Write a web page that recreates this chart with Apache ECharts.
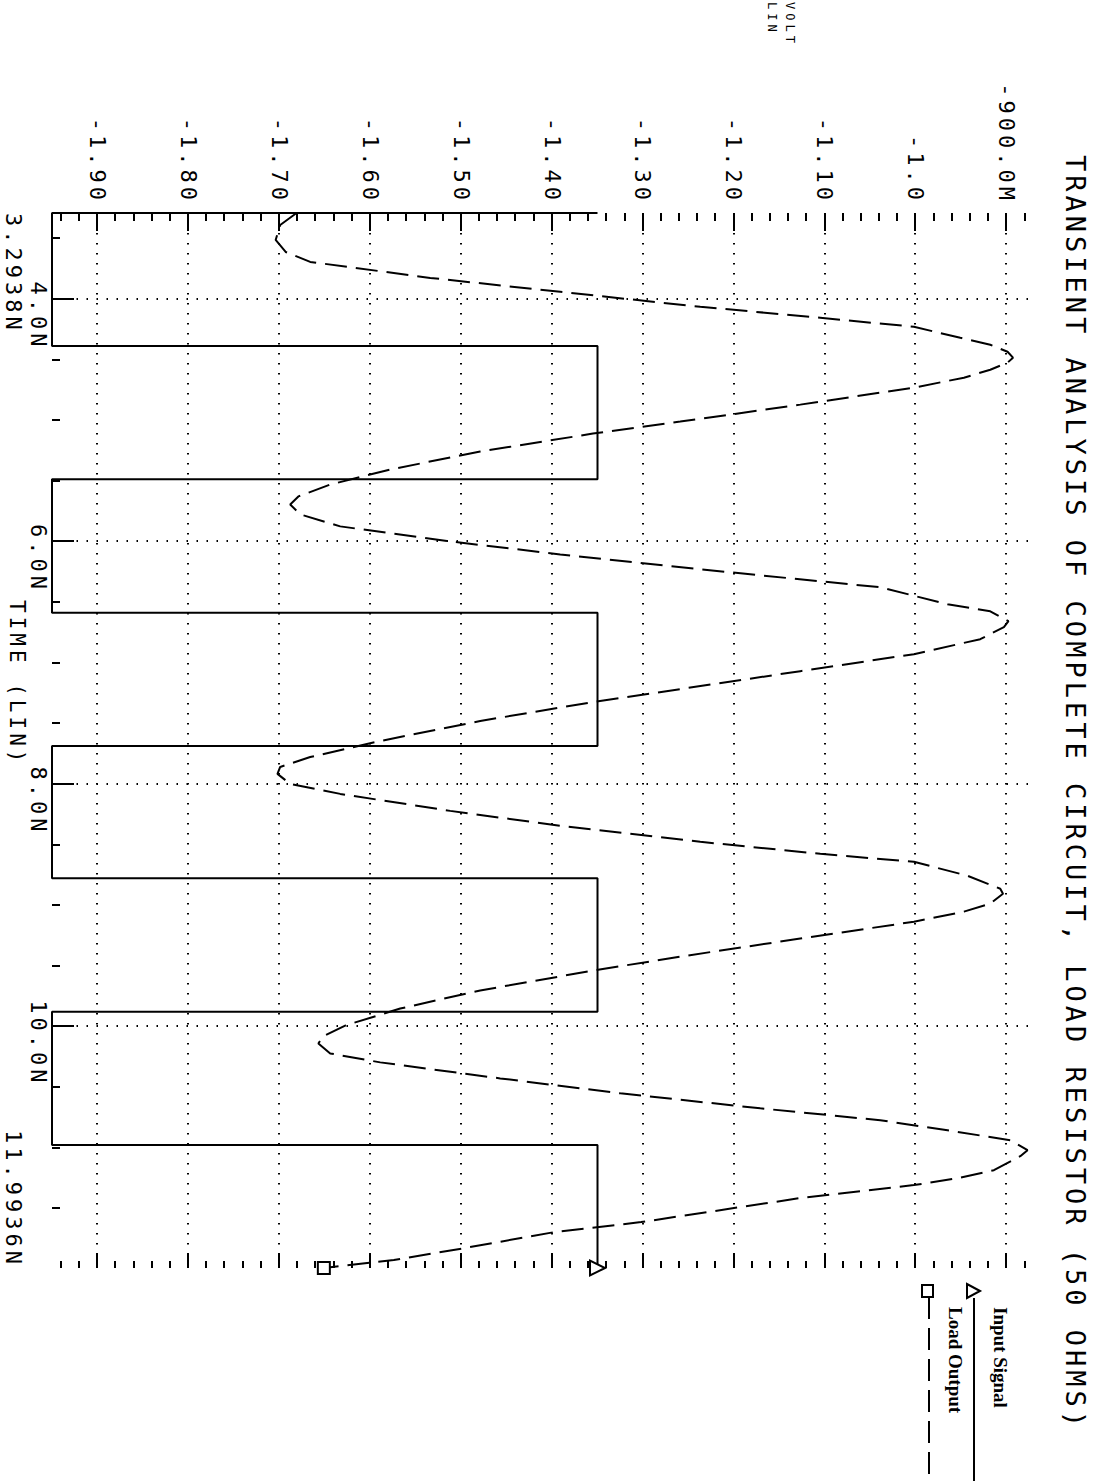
<!DOCTYPE html>
<html>
<head>
<meta charset="utf-8">
<title>Transient analysis</title>
<script src="https://cdn.jsdelivr.net/npm/echarts@6.0.0/dist/echarts.min.js"></script>
<style>
  html, body { margin: 0; padding: 0; background: #fff; overflow: hidden; }
  #wrap { position: absolute; left: 0; top: 0; width: 1106px; height: 1481px; overflow: hidden; background: #fff; }
  /* the plot is drawn landscape and turned a quarter clockwise, like the scanned page */
  #main { position: absolute; left: 0; top: 0; width: 1481px; height: 1106px;
          transform-origin: 0 0; transform: translate(1106px, 0) rotate(90deg); }
  /* plotter lettering is widely spaced */
  #main text[style*="DejaVu Sans Mono"] { letter-spacing: 4px; }
</style>
</head>
<body>
<div id="wrap"><div id="main"></div></div>
<script>
// time axis (ns)
const timeMin = 3.2938;
const timeMax = 11.9936;
const timeTicks = [4, 6, 8, 10];
const timeLabels = ['4.0N', '6.0N', '8.0N', '10.0N'];
const timeEnds = [3.2938, 11.9936];
const timeEndLabels = ['3.2938N', '11.9936N'];
const timeMinor = [3.5, 4.5, 5, 5.5, 6.5, 7, 7.5, 8.5, 9, 9.5, 10.5, 11, 11.5];

// voltage axis (V)
const voltMin = -1.95;
const voltMax = -0.8765;
const voltTicks = [-1.9, -1.8, -1.7, -1.6, -1.5, -1.4, -1.3, -1.2, -1.1, -1.0, -0.9];
const voltLabels = ['-1.90', '-1.80', '-1.70', '-1.60', '-1.50', '-1.40', '-1.30', '-1.20', '-1.10', '-1.0', '-900.0M'];

// Input Signal (square wave)
const inputTime = [3.2938, 3.2938, 4.39, 4.39, 5.49, 5.49, 6.59, 6.59, 7.69, 7.69,
                   8.78, 8.78, 9.88, 9.88, 10.98, 10.98, 11.9936];
const inputVolt = [-1.35, -1.95, -1.95, -1.35, -1.35, -1.95, -1.95, -1.35, -1.35, -1.95,
                   -1.95, -1.35, -1.35, -1.95, -1.95, -1.35, -1.35];

// Load Output
const loadTime = [3.2938, 3.393, 3.516, 3.615, 3.697, 3.829, 3.944, 4.067, 4.158, 4.232,
                  4.323, 4.380, 4.438, 4.487, 4.528, 4.586, 4.652, 4.734, 4.874, 5.014,
                  5.113, 5.261, 5.409, 5.533, 5.631, 5.697, 5.779, 5.878, 6.002, 6.109,
                  6.232, 6.331, 6.380, 6.520, 6.578, 6.660, 6.709, 6.808, 6.932, 7.072,
                  7.220, 7.327, 7.483, 7.648, 7.780, 7.862, 7.919, 8.002, 8.084, 8.224,
                  8.347, 8.479, 8.578, 8.644, 8.759, 8.866, 8.907, 8.989, 9.055, 9.138,
                  9.277, 9.426, 9.541, 9.705, 9.854, 9.993, 10.084, 10.142, 10.224, 10.298,
                  10.430, 10.553, 10.677, 10.775, 10.858, 10.940, 11.022, 11.072, 11.187, 11.253,
                  11.310, 11.417, 11.615, 11.697, 11.829, 11.928, 11.9936];
const loadVolt = [-1.681, -1.699, -1.704, -1.693, -1.666, -1.534, -1.391, -1.237, -1.105, -1.002,
                  -0.951, -0.918, -0.899, -0.893, -0.899, -0.918, -0.947, -1.002, -1.127, -1.259,
                  -1.355, -1.479, -1.578, -1.644, -1.679, -1.688, -1.677, -1.633, -1.512, -1.391,
                  -1.237, -1.105, -1.039, -0.965, -0.918, -0.898, -0.903, -0.929, -1.002, -1.127,
                  -1.259, -1.355, -1.479, -1.589, -1.666, -1.699, -1.702, -1.688, -1.633, -1.512,
                  -1.391, -1.237, -1.105, -1.002, -0.943, -0.907, -0.904, -0.918, -0.947, -1.002,
                  -1.127, -1.259, -1.355, -1.479, -1.567, -1.627, -1.652, -1.657, -1.644, -1.589,
                  -1.457, -1.325, -1.171, -1.039, -0.965, -0.896, -0.877, -0.885, -0.914, -0.954,
                  -1.002, -1.127, -1.302, -1.397, -1.496, -1.574, -1.651];

const FONT = 'DejaVu Sans Mono';
const INK = '#000';

// minor ticks on the voltage axis every 20mV
const voltMinor = [];
for (let k = 0; k <= 53; k++) {
  const v = Math.round((-1.94 + k * 0.02) * 100) / 100;
  if (Math.abs(Math.round(v * 10) - v * 10) > 1e-6) voltMinor.push(v);
}

function pick(values, labels, v) {
  for (let i = 0; i < values.length; i++) {
    if (Math.abs(values[i] - v) < 1e-6) return labels[i];
  }
  return '';
}

function toPairs(xs, ys, lastSymbol, size) {
  const out = xs.map((t, i) => [t, ys[i]]);
  const last = out.pop();
  out.push({
    value: last,
    symbol: lastSymbol,
    symbolSize: size,
    itemStyle: { color: '#fff', borderColor: INK, borderWidth: 2 }
  });
  return out;
}

const tickLine = { color: INK, width: 2 };
const dotted = { color: INK, width: 2, type: [1.5, 8.5] };
const noLabel = { show: false };

function timeAxis(extra) {
  return Object.assign({
    type: 'value', min: timeMin, max: timeMax, position: 'bottom',
    axisLine: { show: false }, splitLine: { show: false }, axisLabel: noLabel
  }, extra);
}
function voltAxis(extra) {
  return Object.assign({
    type: 'value', min: voltMin, max: voltMax,
    axisLine: { show: false }, splitLine: { show: false }, axisLabel: noLabel
  }, extra);
}

const chart = echarts.init(document.getElementById('main'), null, { renderer: 'svg' });

const option = {
  animation: false,
  backgroundColor: '#fff',
  title: {
    text: 'TRANSIENT ANALYSIS OF COMPLETE CIRCUIT, LOAD RESISTOR (50 OHMS)',
    left: 150,
    top: 12,
    textStyle: { fontFamily: FONT, fontSize: 27, fontWeight: 'normal', color: INK }
  },
  grid: { left: 213, right: 213, top: 78, bottom: 52, outerBoundsMode: 'none' },
  xAxis: [
    timeAxis({
      axisTick: { show: true, inside: true, length: 22, customValues: timeTicks, lineStyle: tickLine },
      axisLabel: {
        show: true, customValues: timeTicks, margin: 3, align: 'center',
        color: INK, fontFamily: FONT, fontSize: 22,
        formatter: v => '  ' + pick(timeTicks, timeLabels, v)
      },
      splitLine: { show: true, lineStyle: dotted }
    }),
    timeAxis({
      axisTick: { show: true, inside: true, length: 8, customValues: timeMinor, lineStyle: tickLine },
      axisLabel: {
        show: true, customValues: timeEnds, margin: 28,
        alignMinLabel: 'left', alignMaxLabel: 'right',
        color: INK, fontFamily: FONT, fontSize: 22,
        formatter: v => pick(timeEnds, timeEndLabels, v)
      }
    })
  ],
  yAxis: [
    voltAxis({
      position: 'left',
      axisTick: { show: true, inside: true, length: 18, customValues: voltTicks, lineStyle: tickLine },
      axisLabel: {
        show: true, customValues: voltTicks, margin: 9,
        color: INK, fontFamily: FONT, fontSize: 22,
        formatter: v => pick(voltTicks, voltLabels, v)
      },
      splitLine: { show: true, lineStyle: dotted }
    }),
    voltAxis({
      position: 'left',
      axisTick: { show: true, inside: true, length: 8, customValues: voltMinor, lineStyle: tickLine }
    }),
    voltAxis({
      position: 'right',
      axisTick: { show: true, inside: true, length: 14, customValues: voltTicks, lineStyle: tickLine }
    }),
    voltAxis({
      position: 'right',
      axisTick: { show: true, inside: true, length: 7, customValues: voltMinor, lineStyle: tickLine }
    })
  ],
  series: [
    {
      name: 'Input Signal',
      type: 'line',
      xAxisIndex: 0,
      yAxisIndex: 0,
      clip: false,
      symbol: 'none',
      lineStyle: { color: INK, width: 2 },
      data: toPairs(inputTime, inputVolt, 'triangle', 15)
    },
    {
      name: 'Load Output',
      type: 'line',
      xAxisIndex: 0,
      yAxisIndex: 0,
      clip: false,
      symbol: 'none',
      lineStyle: { color: INK, width: 2, type: [22, 9] },
      data: toPairs(loadTime, loadVolt, 'rect', 12)
    }
  ],
  graphic: [
    // y axis name, stacked at the upper left of the sheet
    { type: 'text', x: 2, y: 310, style: { text: 'VOLT', fontFamily: FONT, fontSize: 12, fill: INK } },
    { type: 'text', x: 2, y: 328, style: { text: 'LIN', fontFamily: FONT, fontSize: 12, fill: INK } },
    // x axis name
    { type: 'text', x: 600, y: 1079, style: { text: 'TIME (LIN)', fontFamily: FONT, fontSize: 21, fill: INK } },
    // legend
    { type: 'text', x: 1307, y: 106, style: { text: 'Input Signal', fontFamily: 'Liberation Serif', fontWeight: 'bold', fontSize: 19, fill: INK, verticalAlign: 'middle' } },
    { type: 'polygon', shape: { points: [[1291, 126], [1284, 139], [1298, 139]] }, style: { fill: '#fff', stroke: INK, lineWidth: 2 } },
    { type: 'line', shape: { x1: 1298, y1: 132, x2: 1481, y2: 132 }, style: { stroke: INK, lineWidth: 2 } },
    { type: 'text', x: 1307, y: 151, style: { text: 'Load Output', fontFamily: 'Liberation Serif', fontWeight: 'bold', fontSize: 19, fill: INK, verticalAlign: 'middle' } },
    { type: 'rect', shape: { x: 1285, y: 173, width: 12, height: 11 }, style: { fill: '#fff', stroke: INK, lineWidth: 2 } },
    { type: 'line', shape: { x1: 1297, y1: 177, x2: 1481, y2: 177 }, style: { stroke: INK, lineWidth: 2, lineDash: [22, 9] } }
  ]
};

chart.setOption(option);
</script>
</body>
</html>
